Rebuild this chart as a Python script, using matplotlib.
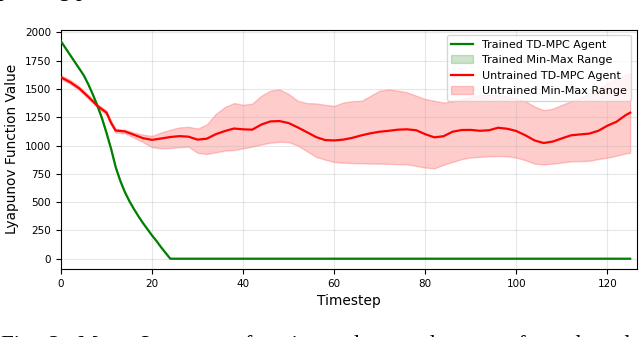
import matplotlib
matplotlib.use("Agg")
import matplotlib.pyplot as plt

# ---- data ----
trained_t = [0, 1, 2, 3, 4, 5, 6, 7, 8, 9, 10, 11, 12, 13, 14, 15, 16, 17, 18,
             19, 20, 21, 22, 23, 24, 125]
trained_mean = [1920, 1860, 1800, 1740, 1680, 1620, 1540, 1450, 1350, 1240, 1110,
                970, 810, 690, 590, 510, 440, 375, 315, 260, 205, 155, 100, 50, 0, 0]

untrained_t = [0, 2, 4, 6, 8, 10, 11, 12, 14, 16, 18, 20, 22, 24, 26, 28, 30, 32,
               34, 36, 38, 40, 42, 44, 46, 48, 50, 52, 54, 56, 58, 60, 62, 64, 66,
               68, 70, 72, 74, 76, 78, 80, 82, 84, 86, 88, 90, 92, 94, 96, 98, 100,
               102, 104, 106, 108, 110, 112, 114, 116, 118, 120, 122, 124, 125]
untrained_mean = [1602, 1560, 1505, 1430, 1350, 1290, 1200, 1132, 1125, 1095, 1065,
                  1050, 1062, 1075, 1083, 1078, 1052, 1060, 1100, 1128, 1150, 1143,
                  1140, 1185, 1213, 1216, 1198, 1160, 1118, 1075, 1048, 1045, 1052,
                  1068, 1090, 1108, 1122, 1130, 1140, 1143, 1135, 1100, 1072, 1082,
                  1122, 1137, 1138, 1130, 1135, 1157, 1148, 1128, 1090, 1045, 1022,
                  1035, 1063, 1090, 1098, 1105, 1130, 1175, 1210, 1268, 1290]
untrained_min = [1585, 1545, 1490, 1415, 1335, 1272, 1182, 1115, 1108, 1070, 1030,
                 985, 975, 978, 985, 990, 935, 925, 940, 955, 960, 975, 990, 1010,
                 1025, 1033, 1030, 1000, 950, 900, 875, 855, 848, 845, 843, 840, 840,
                 838, 835, 833, 820, 805, 798, 830, 855, 880, 895, 900, 905, 907, 905,
                 893, 870, 840, 832, 840, 850, 860, 862, 865, 880, 893, 910, 930, 936]
untrained_max = [1622, 1580, 1522, 1448, 1365, 1310, 1218, 1148, 1140, 1115, 1095,
                 1085, 1115, 1140, 1160, 1165, 1150, 1185, 1280, 1340, 1375, 1360,
                 1370, 1440, 1485, 1495, 1455, 1395, 1375, 1372, 1360, 1350, 1380,
                 1392, 1395, 1440, 1485, 1495, 1485, 1470, 1440, 1410, 1395, 1380,
                 1390, 1410, 1430, 1445, 1450, 1445, 1430, 1415, 1390, 1345, 1312,
                 1325, 1360, 1390, 1420, 1460, 1500, 1550, 1590, 1625, 1640]

x_ticks = [0, 20, 40, 60, 80, 100, 120]
y_ticks = [0, 250, 500, 750, 1000, 1250, 1500, 1750, 2000]

W, H = 640, 337
fig = plt.figure(figsize=(W / 100, H / 100), dpi=100)
ax = fig.add_axes([61 / W, 1 - 269 / H, (637 - 61) / W, (269 - 29.5) / H])

ax.plot(trained_t, trained_mean, color="green", lw=1.6, label="Trained TD-MPC Agent", zorder=3)
ax.fill_between(trained_t, trained_mean, trained_mean, color="green", alpha=0.2,
                label="Trained Min-Max Range")
ax.plot(untrained_t, untrained_mean, color="red", lw=1.6, label="Untrained TD-MPC Agent", zorder=3)
ax.fill_between(untrained_t, untrained_min, untrained_max, color="red", alpha=0.2,
                label="Untrained Min-Max Range")

ax.set_xlim(0, 126.5)
ax.set_ylim(-91, 2025)
ax.set_xticks(x_ticks)
ax.set_yticks(y_ticks)
ax.tick_params(labelsize=7.5)
ax.grid(True, alpha=0.3)
ax.set_xlabel("Timestep", fontsize=9.9)
ax.set_ylabel("Lyapunov Function Value", fontsize=9.9)
ax.legend(loc="upper right", fontsize=8)

# surrounding paper text (cropped in the reference)
fig.text(-2 / W, 1 + 4 / H, "peaking process.", family="Liberation Serif",
         fontsize=16.5, va="baseline", ha="left")
fig.text(1 / W, -14 / H,
         "Fig.  2:  Mean  Lyapunov  function  values  and  ranges  for  selected",
         family="Liberation Serif", fontsize=16.5, va="baseline", ha="left")

fig.savefig("out.png", dpi=100)
